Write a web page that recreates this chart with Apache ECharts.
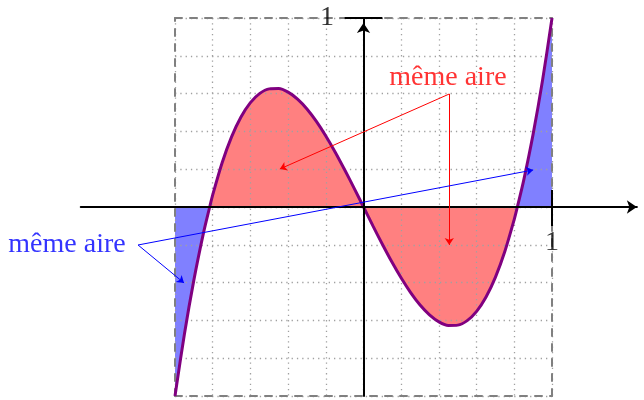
<!DOCTYPE html>
<html>
<head>
<meta charset="utf-8">
<script src="https://cdn.jsdelivr.net/npm/echarts@6/dist/echarts.min.js"></script>
<style>
  html, body { margin: 0; padding: 0; background: #fff; }
  #chart { width: 644px; height: 400px; }
</style>
</head>
<body>
<div id="chart"></div>
<script>
// curve f(x), values
const xs = [-1, -0.95, -0.9, -0.85, -0.816, -0.8, -0.75, -0.7, -0.65, -0.6, -0.55, -0.5, -0.45, -0.4, -0.35, -0.3, -0.25, -0.2, -0.15, -0.1, -0.05,
  0, 0.05, 0.1, 0.15, 0.2, 0.25, 0.3, 0.35, 0.4, 0.45, 0.5, 0.55, 0.6, 0.65, 0.7, 0.75, 0.8, 0.816, 0.85, 0.9, 0.95, 1]
const ys = [-1, -0.672, -0.387, -0.142, 0, 0.064, 0.234, 0.371, 0.476, 0.552, 0.601, 0.625, 0.627, 0.608, 0.571, 0.519, 0.453, 0.376, 0.29, 0.197, 0.1,
  0, -0.1, -0.197, -0.29, -0.376, -0.453, -0.519, -0.571, -0.608, -0.627, -0.625, -0.601, -0.552, -0.476, -0.371, -0.234, -0.064, 0, 0.142, 0.387, 0.672, 1]
const roots = [-0.816, 0.816]

// "1" on each axis
const tickLabels = ['1', '1']
const tickLabelAt = [[1, -0.19], [-0.194, 1]]
const axisTicks = [
  [[1, -0.1], [1, 0.09]],
  [[-0.1, 1], [0.1, 1]]
]
const annotationText = 'même aire'
// arrow annotations (from, to) in axis units
const redArrows = [
  [[0.455, 0.598], [-0.444, 0.201]],
  [[0.455, 0.598], [0.455, -0.201]]
]
const blueArrows = [
  [[-1.196, -0.201], [-0.952, -0.402]],
  [[-1.196, -0.201], [0.9, 0.196]]
]
const redLabelAt = [0.448, 0.683]
const blueLabelAt = [-1.573, -0.2]

const pts = xs.map((x, i) => [x, ys[i]])
const inner = pts.filter(p => p[0] >= roots[0] && p[0] <= roots[1])
const leftOuter = pts.filter(p => p[0] <= roots[0])
const rightOuter = pts.filter(p => p[0] >= roots[1])

const serif = '"Liberation Serif", "DejaVu Serif", serif'
const chart = echarts.init(document.getElementById('chart'))

const frameAxis = (extra) => Object.assign({
  type: 'value',
  gridIndex: 1,
  min: -1,
  max: 1,
  interval: 0.2,
  z: 3,
  axisLine: { show: true, onZero: false, lineStyle: { color: '#808080', width: 2, type: [7, 8] } },
  axisTick: { show: false },
  axisLabel: { show: false },
  splitLine: { show: false }
}, extra)
const dotted = { show: true, lineStyle: { color: '#a0a0a0', width: 1.3, type: [1.3, 4] } }

const mainAxis = (min, max, offset) => ({
  type: 'value',
  min,
  max,
  z: 5,
  axisLine: { onZero: true, symbol: ['none', 'arrow'], symbolSize: [10, 10], symbolOffset: [0, offset], lineStyle: { color: '#000', width: 2 } },
  axisTick: { show: false },
  axisLabel: { show: false },
  splitLine: { show: false }
})

const areaSeries = (data, color) => ({
  type: 'line',
  data,
  smooth: 0.3,
  showSymbol: false,
  silent: true,
  z: 1,
  lineStyle: { width: 0 },
  areaStyle: { color, opacity: 1 }
})

const arrowSeries = (data, color) => ({
  type: 'lines',
  coordinateSystem: 'cartesian2d',
  z: 6,
  symbol: ['none', 'arrow'],
  symbolSize: 7,
  lineStyle: { color, width: 1, opacity: 1 },
  data: data.map(c => ({ coords: c }))
})

chart.setOption({
  animation: false,
  grid: [
    { left: 80.75, top: 18, width: 556.1, height: 378, containLabel: false, outerBoundsMode: 'none' },
    { left: 175, top: 18, width: 377, height: 378, containLabel: false, outerBoundsMode: 'none' }
  ],
  xAxis: [
    mainAxis(-1.5, 1.45, 0),
    frameAxis({ position: 'bottom', splitLine: dotted }),
    frameAxis({ position: 'top' })
  ],
  yAxis: [
    mainAxis(-1, 1, -5),
    frameAxis({ position: 'left', splitLine: dotted }),
    frameAxis({ position: 'right' })
  ],
  series: [
    areaSeries(inner, '#ff8080'),
    areaSeries(leftOuter, '#8080ff'),
    areaSeries(rightOuter, '#8080ff'),
    {
      type: 'line',
      data: pts,
      smooth: 0.3,
      showSymbol: false,
      z: 4,
      lineStyle: { color: '#800080', width: 3 }
    },
    {
      type: 'lines',
      coordinateSystem: 'cartesian2d',
      z: 6,
      symbol: ['none', 'none'],
      lineStyle: { color: '#000', width: 2, opacity: 1 },
      data: axisTicks.map(c => ({ coords: c }))
    },
    arrowSeries(redArrows, '#ff0000'),
    arrowSeries(blueArrows, '#0000ff'),
    {
      type: 'scatter',
      clip: false,
      symbolSize: 0,
      z: 7,
      label: {
        show: true,
        position: 'inside',
        formatter: p => p.name,
        fontFamily: serif,
        fontSize: 28
      },
      data: [
        { name: annotationText, value: redLabelAt, label: { color: '#ff0000' } },
        { name: annotationText, value: blueLabelAt, label: { color: '#0000ff' } },
        ...tickLabels.map((t, i) => ({ name: t, value: tickLabelAt[i], label: { color: '#000' } }))
      ]
    }
  ]
})
</script>
</body>
</html>
